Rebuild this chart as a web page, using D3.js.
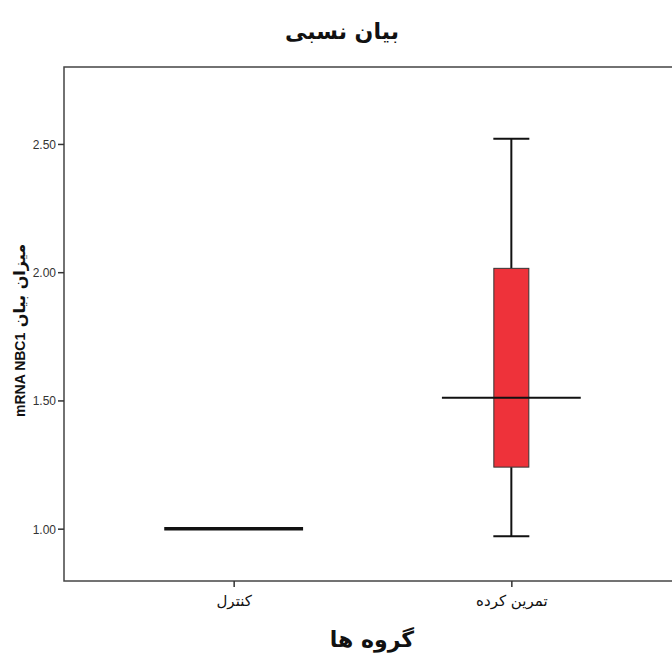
<!DOCTYPE html>
<html>
<head>
<meta charset="utf-8">
<script src="https://cdn.jsdelivr.net/npm/d3@7"></script>
<style>
  body { margin: 0; background: #fff; }
  text { font-family: 'DejaVu Sans', sans-serif; }
</style>
</head>
<body>
<div id="chart"></div>
<script>
// box plot values
const groups = ['کنترل', 'تمرین کرده']
const lowWhisker = [1.00, 0.97]
const q1 = [1.00, 1.24]
const median = [1.00, 1.51]
const q3 = [1.00, 2.015]
const highWhisker = [1.00, 2.52]
const yTicks = [1.00, 1.50, 2.00, 2.50]

const width = 672
const height = 658
const margin = { top: 67, left: 64, right: -9, bottom: 77 }

const svg = d3.select('#chart')
  .append('svg')
  .attr('width', width)
  .attr('height', height)

const x = d3.scalePoint()
  .domain(groups)
  .range([margin.left, width - margin.right])
  .padding(0.611)

const y = d3.scaleLinear()
  .domain([0.796, 2.80])
  .range([height - margin.bottom, margin.top])

const boxes = groups.map((g, i) => ({
  g: g,
  lo: lowWhisker[i], q1: q1[i], med: median[i], q3: q3[i], hi: highWhisker[i]
}))

const step = x.step()
const boxW = 35
const capW = 36
const medW = step * 0.5

// frame
svg.append('rect')
  .attr('x', margin.left)
  .attr('y', margin.top)
  .attr('width', width - margin.right - margin.left)
  .attr('height', height - margin.bottom - margin.top)
  .attr('fill', 'none')
  .attr('stroke', '#444')
  .attr('stroke-width', 1.5)

// y axis
const yAxis = svg.append('g')
  .attr('transform', `translate(${margin.left},0)`)
  .call(d3.axisLeft(y).tickValues(yTicks).tickFormat(d3.format('.2f')).tickSize(6).tickPadding(2))
yAxis.select('.domain').remove()
yAxis.selectAll('.tick line').attr('stroke', '#333').attr('stroke-width', 1.5)
yAxis.selectAll('.tick text')
  .attr('fill', '#333')
  .style('font-family', "'Liberation Sans', Arial, sans-serif")
  .style('font-size', '12px')
  .attr('dy', '0.36em')

// x axis
const xAxis = svg.append('g')
  .attr('transform', `translate(0,${height - margin.bottom})`)
  .call(d3.axisBottom(x).tickSize(6).tickPadding(8))
xAxis.select('.domain').remove()
xAxis.selectAll('.tick line').attr('stroke', '#333').attr('stroke-width', 1.5)
xAxis.selectAll('.tick text')
  .attr('fill', '#111')
  .style('font-size', '15px')

const bp = svg.selectAll('.box')
  .data(boxes)
  .enter()
  .append('g')
  .attr('class', 'box')

// whiskers
bp.append('line')
  .attr('x1', d => x(d.g)).attr('x2', d => x(d.g))
  .attr('y1', d => y(d.hi)).attr('y2', d => y(d.q3))
  .attr('stroke', '#111').attr('stroke-width', 2)
bp.append('line')
  .attr('x1', d => x(d.g)).attr('x2', d => x(d.g))
  .attr('y1', d => y(d.q1)).attr('y2', d => y(d.lo))
  .attr('stroke', '#111').attr('stroke-width', 2)
bp.filter(d => d.hi !== d.q3).append('line')
  .attr('x1', d => x(d.g) - capW / 2).attr('x2', d => x(d.g) + capW / 2)
  .attr('y1', d => y(d.hi)).attr('y2', d => y(d.hi))
  .attr('stroke', '#111').attr('stroke-width', 2)
bp.filter(d => d.lo !== d.q1).append('line')
  .attr('x1', d => x(d.g) - capW / 2).attr('x2', d => x(d.g) + capW / 2)
  .attr('y1', d => y(d.lo)).attr('y2', d => y(d.lo))
  .attr('stroke', '#111').attr('stroke-width', 2)

// box
bp.filter(d => d.q3 !== d.q1).append('rect')
  .attr('x', d => x(d.g) - boxW / 2)
  .attr('y', d => y(d.q3))
  .attr('width', boxW)
  .attr('height', d => y(d.q1) - y(d.q3))
  .attr('fill', '#ee323a')
  .attr('stroke', '#333')
  .attr('stroke-width', 1)

// median
bp.append('line')
  .attr('x1', d => x(d.g) - medW / 2).attr('x2', d => x(d.g) + medW / 2)
  .attr('y1', d => y(d.med)).attr('y2', d => y(d.med))
  .attr('stroke', '#111')
  .attr('stroke-width', d => d.q3 === d.q1 ? 3.5 : 2)

// titles
svg.append('text')
  .attr('x', 342)
  .attr('y', 39)
  .attr('text-anchor', 'middle')
  .style('font-size', '22px')
  .style('font-weight', 'bold')
  .attr('fill', '#111')
  .text('بیان نسبی')

svg.append('text')
  .attr('x', 372)
  .attr('y', 647)
  .attr('text-anchor', 'middle')
  .style('font-size', '22px')
  .style('font-weight', 'bold')
  .attr('fill', '#111')
  .text('گروه ها')

const yLabel = svg.append('text')
  .attr('transform', 'translate(25,417) rotate(-90)')
  .attr('text-anchor', 'start')
  .style('font-weight', 'bold')
  .attr('fill', '#111')
yLabel.append('tspan')
  .style('font-family', "'Liberation Sans', Arial, sans-serif")
  .style('font-size', '14px')
  .text('mRNA NBC1')
yLabel.append('tspan')
  .style('font-size', '16px')
  .text(' میزان بیان')
</script>
</body>
</html>
